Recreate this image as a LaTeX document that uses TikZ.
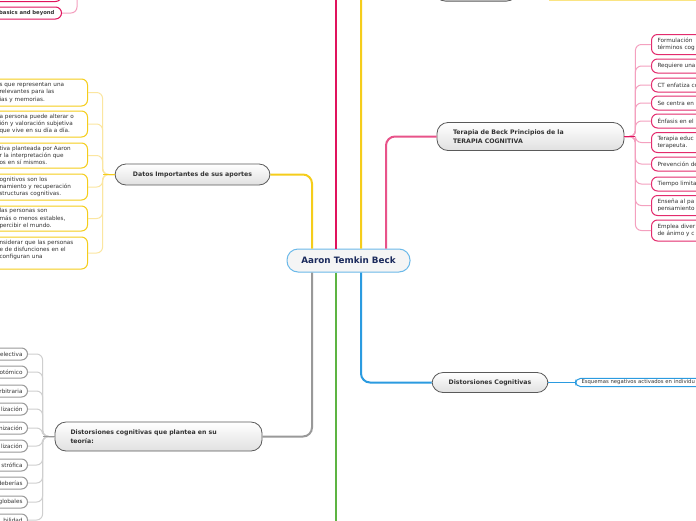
\documentclass[tikz,border=0pt]{standalone}
\usepackage{fontspec}
\setmainfont{DejaVu Sans}
\definecolor{cgold}{HTML}{F5CD1B}
\definecolor{cgoldl}{HTML}{FBE6A0}
\definecolor{ccrim}{HTML}{E0135D}
\definecolor{cpink}{HTML}{E8538A}
\definecolor{cpinkl}{HTML}{F4A0BF}
\definecolor{cgrey}{HTML}{999999}
\definecolor{cgreyl}{HTML}{CFCFCF}
\definecolor{cgreen}{HTML}{5DB443}
\definecolor{cblue}{HTML}{2B9BE0}
\definecolor{cdark}{HTML}{5A5A5A}
\definecolor{ctext}{HTML}{333333}
\definecolor{cnavy}{HTML}{1B2A5C}

\begin{document}
\begin{tikzpicture}[x=1pt,y=-1pt,
  root/.style={draw=cblue!70,line width=1pt,fill=black!4,rounded corners=11pt,
    minimum width=123pt,minimum height=23pt,inner sep=0pt,text=cnavy,
    font=\fontsize{8.8}{10}\selectfont\bfseries},
  topic/.style={draw=cdark,line width=0.8pt,rounded corners=11pt,top color=white,
    bottom color=black!12,inner sep=0pt,text=ctext,
    font=\fontsize{6.2}{8.4}\selectfont\bfseries},
  leaf/.style={draw,line width=1pt,fill=white,rounded corners=6pt,text=ctext,
    font=\fontsize{5.7}{7.2}\selectfont,inner xsep=4pt,inner ysep=2pt},
  dleaf/.style={leaf,draw=cgold,anchor=east,text width=130pt,align=left,
    inner xsep=2pt,execute at begin node={\leftskip=44pt}},
  tleaf/.style={leaf,draw=ccrim!90,anchor=west,text width=110pt,align=left,
    inner xsep=6pt},
  sleaf/.style={leaf,draw=cgrey,anchor=east,text width=100pt,align=right,
    inner xsep=5pt,inner ysep=1pt,minimum height=12pt},
  branch/.style={line width=2pt,rounded corners=9pt},
  twig/.style={line width=1pt,rounded corners=6pt}]
  \fill[white] (0,0) rectangle (696,520);
  \useasboundingbox (0,0) rectangle (696,520);

  \coordinate (cima) at (336,-10);
  \coordinate (fondo) at (336,530);
  \coordinate (rama) at (77,-20);

  \node[root] (beck) at (348.5,260.5) {Aaron Temkin Beck};
  \node[topic,minimum width=155pt,minimum height=21pt] (datos) at (192.5,174.5) {Datos Importantes de sus aportes};
  \node[topic,text width=176pt,align=left,minimum width=207pt,minimum height=29pt] (teoria) at (158.5,436.5) {Distorsiones cognitivas que plantea en su\\teoría:};
  \node[topic,text width=155pt,align=left,minimum width=187pt,minimum height=28pt] (terapia) at (530.5,136.5) {Terapia de Beck Principios de la\\TERAPIA COGNITIVA};
  \node[topic,minimum width=116pt,minimum height=20pt] (distcog) at (490,382.5) {Distorsiones Cognitivas};
  \node[topic,minimum width=83pt,minimum height=22pt,anchor=south] (arriba) at (476,1.5) {};
  \node[fill=cgold!55,minimum width=160pt,minimum height=14pt,inner sep=0pt,anchor=south west] (franja) at (549,1.5) {};

  \node[leaf,draw=cblue,anchor=west,text width=140pt,align=left,inner xsep=6pt,inner ysep=1.5pt,
    rounded corners=5pt,font=\fontsize{5.3}{6}\selectfont] (esq) at (575,382.5) {Esquemas negativos activados en individu};

  \node[leaf,draw=ccrim,anchor=east,text width=100pt,align=right,inner xsep=7pt,inner ysep=1pt,
    minimum height=12pt,font=\fontsize{5.3}{6}\selectfont\bfseries] (libro) at (62,13) {: basics and beyond};
  \node[leaf,draw=ccrim,anchor=south east,minimum width=110pt,minimum height=14pt] (libro0) at (62,2) {};

  \node[dleaf,minimum height=27pt] (d1) at (88,92.5) {s que representan una\\relevantes para las\\ias y memorias.};
  \node[dleaf,minimum height=26pt] (d2) at (88,124) {a persona puede alterar o\\ión y valoración subjetiva\\que vive en su día a día.};
  \node[dleaf,minimum height=25pt] (d3) at (88,155.5) {tiva planteada por Aaron\\r la interpretación que\\os en sí mismos.};
  \node[dleaf,minimum height=26pt] (d4) at (88,187) {ognitivos son los\\namiento y recuperación\\structuras cognitivas.};
  \node[dleaf,minimum height=25pt] (d5) at (88,218.5) {las personas son\\más o menos estables,\\percibir el mundo.};
  \node[dleaf,minimum height=32pt] (d6) at (88,253) {nsiderar que las personas\\e de disfunciones en el\\configuran una\\\mbox{}};

  \node[tleaf,minimum height=20pt] (t1) at (651,44.5) {Formulación\\términos cog};
  \node[tleaf,minimum height=14pt] (t2) at (651,66) {Requiere una};
  \node[tleaf,minimum height=14pt] (t3) at (651,85) {CT enfatiza co};
  \node[tleaf,minimum height=14pt] (t4) at (651,103) {Se centra en e};
  \node[tleaf,minimum height=14pt] (t5) at (651,121) {Énfasis en el p};
  \node[tleaf,minimum height=20pt] (t6) at (651,142.5) {Terapia educ\\terapeuta.};
  \node[tleaf,minimum height=14pt] (t7) at (651,164) {Prevención de};
  \node[tleaf,minimum height=14pt] (t8) at (651,184) {Tiempo limita};
  \node[tleaf,minimum height=20pt] (t9) at (651,205.5) {Enseña al pa\\pensamiento};
  \node[tleaf,minimum height=21pt] (t10) at (651,230.5) {Emplea diver\\de ánimo y c};

  \node[sleaf] (s1) at (28,354) {electiva};
  \node[sleaf] (s2) at (28,372) {otómico};
  \node[sleaf] (s3) at (28,391) {rbitraria};
  \node[sleaf] (s4) at (28,409) {lización};
  \node[sleaf] (s5) at (28,428) {nización};
  \node[sleaf] (s6) at (28,446) {lización};
  \node[sleaf] (s7) at (28,465) {strófica};
  \node[sleaf] (s8) at (28,483) {deberías};
  \node[sleaf] (s9) at (28,502) {globales};
  \node[sleaf] (s10) at (28,520) {bilidad};

  \draw[branch,cgold] ([xshift=-36.5pt]beck.north) |- (datos.east);
  \draw[branch,ccrim] ([xshift=-12.5pt]beck.north) -- (cima);
  \draw[branch,cgold] ([xshift=12.5pt]beck.north) |- (arriba.west);
  \draw[branch,cpink] ([xshift=37.5pt]beck.north) |- (terapia.west);
  \draw[branch,cgrey] ([xshift=-36.5pt]beck.south) |- (teoria.east);
  \draw[branch,cgreen] ([xshift=-12.5pt]beck.south) -- (fondo);
  \draw[branch,cblue] ([xshift=12.5pt]beck.south) |- (distcog.west);
  \draw[line width=1.2pt,cblue] (distcog.east) -- (esq.west);

  \draw[twig,cpinkl] (libro.east) -| (rama);
  \draw[twig,cpinkl] (libro0.east) -| (rama);

  \draw[twig,cgoldl] (datos.west) -- ++(-12,0) |- (d1.east);
  \draw[twig,cgoldl] (datos.west) -- ++(-12,0) |- (d2.east);
  \draw[twig,cgoldl] (datos.west) -- ++(-12,0) |- (d3.east);
  \draw[twig,cgoldl] (datos.west) -- ++(-12,0) |- (d4.east);
  \draw[twig,cgoldl] (datos.west) -- ++(-12,0) |- (d5.east);
  \draw[twig,cgoldl] (datos.west) -- ++(-12,0) |- (d6.east);
  \draw[line width=1.5pt,cgold] (datos.west) -- ++(-12,0);

  \draw[twig,cpinkl] (terapia.east) -- ++(11,0) |- (t1.west);
  \draw[twig,cpinkl] (terapia.east) -- ++(11,0) |- (t2.west);
  \draw[twig,cpinkl] (terapia.east) -- ++(11,0) |- (t3.west);
  \draw[twig,cpinkl] (terapia.east) -- ++(11,0) |- (t4.west);
  \draw[twig,cpinkl] (terapia.east) -- ++(11,0) |- (t5.west);
  \draw[twig,cpinkl] (terapia.east) -- ++(11,0) |- (t6.west);
  \draw[twig,cpinkl] (terapia.east) -- ++(11,0) |- (t7.west);
  \draw[twig,cpinkl] (terapia.east) -- ++(11,0) |- (t8.west);
  \draw[twig,cpinkl] (terapia.east) -- ++(11,0) |- (t9.west);
  \draw[twig,cpinkl] (terapia.east) -- ++(11,0) |- (t10.west);
  \draw[line width=1.5pt,ccrim] (terapia.east) -- ++(11,0);

  \draw[twig,cgreyl] (teoria.west) -- ++(-12,0) |- (s1.east);
  \draw[twig,cgreyl] (teoria.west) -- ++(-12,0) |- (s2.east);
  \draw[twig,cgreyl] (teoria.west) -- ++(-12,0) |- (s3.east);
  \draw[twig,cgreyl] (teoria.west) -- ++(-12,0) |- (s4.east);
  \draw[twig,cgreyl] (teoria.west) -- ++(-12,0) |- (s5.east);
  \draw[twig,cgreyl] (teoria.west) -- ++(-12,0) |- (s6.east);
  \draw[twig,cgreyl] (teoria.west) -- ++(-12,0) |- (s7.east);
  \draw[twig,cgreyl] (teoria.west) -- ++(-12,0) |- (s8.east);
  \draw[twig,cgreyl] (teoria.west) -- ++(-12,0) |- (s9.east);
  \draw[twig,cgreyl] (teoria.west) -- ++(-12,0) |- (s10.east);
  \draw[line width=1.5pt,cgrey] (teoria.west) -- ++(-12,0);
\end{tikzpicture}
\end{document}
